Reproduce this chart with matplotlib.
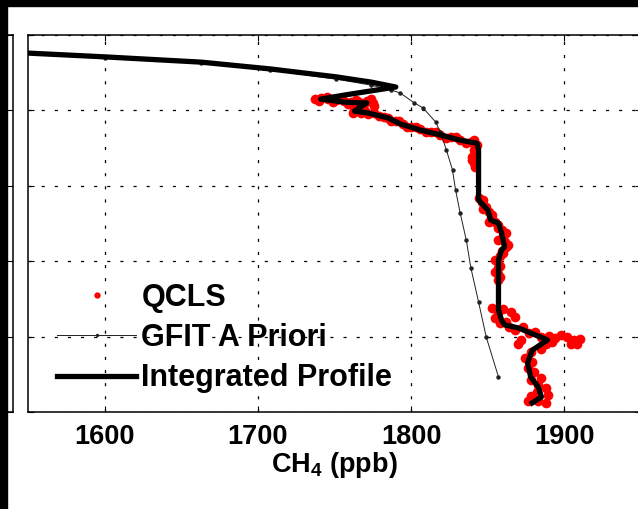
import matplotlib
matplotlib.use('Agg')
import matplotlib.pyplot as plt
from matplotlib.patches import Rectangle

# QCLS in-situ CH4 (ppb) vs pressure (hPa)
qcls_ch4 = [1737, 1740, 1741, 1745, 1746, 1749, 1751, 1754, 1756, 1759, 1761, 1764, 1766, 1769,
            1771, 1774, 1775, 1776, 1768, 1766, 1763, 1770, 1762, 1767, 1772, 1776, 1779, 1782,
            1785, 1787, 1790, 1792, 1795, 1797, 1800, 1803, 1806, 1810, 1813, 1816, 1819, 1823,
            1826, 1829, 1832, 1836, 1839, 1841, 1843, 1842, 1841, 1840, 1840, 1841, 1842,
            1844, 1847, 1846, 1847, 1849, 1851, 1853, 1852, 1851, 1855, 1857, 1857, 1859, 1862,
            1860, 1857, 1861, 1863, 1862, 1860, 1859, 1858, 1855, 1857, 1858, 1857, 1855, 1857,
            1858, 1857,
            1853, 1857, 1860, 1865, 1868, 1855, 1858, 1862, 1864, 1868, 1873, 1877, 1881, 1885,
            1890, 1894, 1898, 1892, 1888, 1872, 1870, 1902, 1906, 1910, 1904, 1908, 1885, 1878,
            1874, 1879, 1876, 1880, 1878, 1885, 1883, 1888, 1882, 1889, 1878, 1876, 1883, 1888]
qcls_p = [170, 175, 167, 165, 170, 178, 172, 170, 175, 183, 178, 172, 178, 183,
          175, 170, 180, 188, 191, 196, 199, 202, 207, 207, 210, 207, 215, 218,
          220, 228, 228, 228, 236, 244, 244, 244, 249, 257, 257, 257, 265, 273,
          271, 271, 279, 286, 284, 279, 292, 318, 305, 324, 332, 340, 350,
          432, 438, 443, 462, 456, 470, 477, 485, 496, 496, 504, 512, 517, 525,
          533, 544, 549, 557, 562, 578, 573, 586, 597, 602, 613, 618, 629, 634,
          642, 650,
          724, 735, 727, 735, 748, 751, 764, 761, 775, 783, 775, 790, 788, 801,
          798, 804, 796, 814, 820, 809, 820, 801, 809, 806, 820, 820, 833, 841,
          857, 867, 883, 894, 915, 910, 928, 936, 947, 955, 958, 971, 971, 976]

# GFIT a priori profile
apriori_ch4 = [1545, 1600, 1663, 1708, 1751, 1774, 1787, 1793, 1802, 1808, 1816, 1819,
               1823, 1827, 1829, 1832, 1836, 1839, 1844, 1849, 1857]
apriori_p = [48, 61, 74, 93, 117, 133, 146, 154, 180, 194, 231, 257,
             305, 358, 411, 472, 544, 618, 708, 801, 907]

# integrated profile
integ_ch4 = [1545, 1550, 1600, 1663, 1708, 1751, 1774, 1790, 1757, 1741, 1756, 1766, 1771,
             1763, 1772, 1785, 1793, 1806, 1819, 1832, 1843, 1844, 1844, 1844, 1844, 1850,
             1852, 1857, 1859, 1861, 1859, 1857, 1857, 1857, 1857, 1859, 1861, 1870, 1889,
             1879, 1876, 1878, 1883, 1885, 1879]
integ_p = [46, 48, 58, 72, 90, 111, 125, 138, 159, 170, 178, 180, 180,
           202, 207, 220, 236, 252, 265, 279, 287, 305, 371, 430, 438, 464,
           491, 499, 525, 562, 570, 597, 642, 703, 729, 756, 769, 777, 809,
           836, 870, 907, 934, 960, 976]

xticks = [1600, 1700, 1800, 1900]
yticks = [0, 200, 400, 600, 800, 1000]

plt.rcParams['font.family'] = ['Liberation Sans', 'DejaVu Sans']
plt.rcParams['font.weight'] = 'bold'
plt.rcParams['axes.labelweight'] = 'bold'
plt.rcParams['mathtext.fontset'] = 'custom'
plt.rcParams['mathtext.rm'] = 'Liberation Sans:bold'
plt.rcParams['mathtext.default'] = 'rm'

W, H = 638, 509
fig = plt.figure(figsize=(W / 100, H / 100), dpi=100)
fig.patch.set_facecolor('white')

# neighbouring panel, only its right edge is visible
axl = fig.add_axes([-300 / W, 97 / H, 313 / W, 377 / H])
axl.set_ylim(1000, 0)
axl.set_yticks(yticks)
axl.set_xticks([])
axl.yaxis.tick_right()
axl.tick_params(direction='in', length=4.5, width=0.8, labelright=False)
for s in axl.spines.values():
    s.set_linewidth(1.1)

ax = fig.add_axes([28 / W, 97 / H, 613 / W, 377 / H])
ax.plot(qcls_ch4, qcls_p, linestyle='none', marker='o', markersize=7,
        color='red', markeredgewidth=0, label='QCLS', zorder=2)
ax.plot(apriori_ch4, apriori_p, color='#222222', linewidth=0.7, marker='o',
        markersize=2.2, label='GFIT A Priori', zorder=3)
ax.plot(integ_ch4, integ_p, color='black', linewidth=3.8, label='Integrated Profile',
        zorder=4, solid_joinstyle='round')

ax.set_xlim(1550, 1950)
ax.set_ylim(1000, 0)
ax.set_xticks(xticks)
ax.set_yticks(yticks)
ax.tick_params(direction='in', length=4.5, width=0.8, top=True, right=True,
               labelsize=19.5, pad=9, labelleft=False)
ax.grid(True, color='black', linestyle=(0, (2.5, 8)), linewidth=0.9)
for s in ax.spines.values():
    s.set_linewidth(1.1)
ax.set_xlabel('CH$_4$ (ppb)', fontsize=19.5, fontweight='bold', labelpad=0)

leg = ax.legend(loc='upper left', bbox_to_anchor=(0.0473, 0.3435), frameon=False,
                fontsize=22, handlelength=2.6, handletextpad=0.16, labelspacing=0.34,
                borderpad=0, borderaxespad=0, markerscale=0.65)

fig.add_artist(Rectangle((0, 1 - 6 / H), 1, 6 / H, transform=fig.transFigure,
                         color='black', zorder=10))
fig.add_artist(Rectangle((0, 0), 7 / W, 1, transform=fig.transFigure,
                         color='black', zorder=10))

fig.savefig('out.png', dpi=100, facecolor='white')
